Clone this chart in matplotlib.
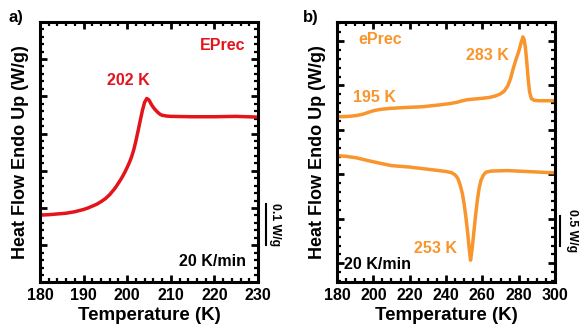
import numpy as np
import matplotlib
matplotlib.use('Agg')
import matplotlib.pyplot as plt
from matplotlib.ticker import MultipleLocator
import matplotlib.transforms as mtransforms

plt.rcParams['font.family'] = ['Liberation Sans', 'DejaVu Sans']
plt.rcParams['font.weight'] = 'bold'

RED = '#e3141b'
ORANGE = '#f8952c'

# 面板 a) EPrec 升温曲线
temp_a = [180, 182, 184, 186, 188, 190, 191, 192, 193, 194, 195, 196, 197, 197.5,
          198, 198.5, 199, 199.5, 200, 200.5, 201, 201.5, 202, 202.5, 203, 203.5,
          204, 204.5, 205, 205.5, 206, 206.5, 207, 207.5, 208, 209, 210, 215, 220,
          225, 230]
flow_a = [0.181, 0.182, 0.184, 0.186, 0.190, 0.196, 0.200, 0.205, 0.210, 0.217,
          0.225, 0.236, 0.250, 0.258, 0.267, 0.276, 0.286, 0.297, 0.309, 0.322,
          0.337, 0.356, 0.380, 0.407, 0.435, 0.462, 0.484, 0.494, 0.490, 0.479,
          0.470, 0.463, 0.457, 0.452, 0.449, 0.447, 0.446, 0.445, 0.445, 0.446,
          0.444]

# 面板 b) ePrec 升温 / 降温曲线
temp_b_heat = [180, 185, 188, 191, 194, 197, 200, 203, 206, 210, 218, 227, 236, 242,
               246, 249, 252, 256, 260, 264, 267, 270, 272, 274, 275.5, 277, 278.5,
               280, 281.3, 282.3, 283, 283.7, 284.4, 285.2, 286, 287, 288.5, 291, 300]
flow_b_heat = [3.296, 3.300, 3.310, 3.325, 3.350, 3.390, 3.430, 3.455, 3.470, 3.485,
               3.504, 3.520, 3.560, 3.590, 3.620, 3.655, 3.680, 3.695, 3.710, 3.730,
               3.760, 3.810, 3.870, 3.990, 4.150, 4.380, 4.580, 4.760, 4.950, 5.090,
               5.030, 4.850, 4.550, 4.150, 3.850, 3.700, 3.665, 3.655, 3.655]
temp_b_cool = [180, 185, 191, 197, 203.7, 210, 220, 231.5, 240, 243, 245, 246.5,
               247.8, 249, 250, 251, 252, 252.8, 253.5, 254.3, 255.2, 256.2, 257.2,
               258.2, 259.2, 260.5, 262, 265, 273.8, 300]
flow_b_cool = [2.422, 2.405, 2.370, 2.310, 2.250, 2.197, 2.164, 2.108, 2.065, 2.040,
               1.990, 1.910, 1.760, 1.570, 1.330, 1.020, 0.660, 0.320, 0.070, 0.300,
               0.650, 1.050, 1.400, 1.680, 1.860, 1.980, 2.050, 2.075, 2.085, 2.034]


def style_axes(ax, xmaj, xmin, ymaj, ymin):
    ax.xaxis.set_major_locator(MultipleLocator(xmaj))
    ax.xaxis.set_minor_locator(MultipleLocator(xmin))
    ax.yaxis.set_major_locator(MultipleLocator(ymaj))
    ax.yaxis.set_minor_locator(MultipleLocator(ymin))
    ax.tick_params(which='both', direction='in', top=True, right=True,
                   labelleft=False, labelsize=11.5)
    ax.tick_params(which='major', length=5, width=2, pad=4)
    ax.tick_params(which='minor', length=3, width=1.6)
    for s in ax.spines.values():
        s.set_linewidth(2.2)
    for lab in ax.get_xticklabels():
        lab.set_fontweight('bold')
    ax.set_xlabel('Temperature (K)', fontsize=13.5, fontweight='bold', labelpad=3)
    ax.set_ylabel('Heat Flow Endo Up (W/g)', fontsize=13, fontweight='bold', labelpad=8)


def scale_bar(ax, x, y0, y1, xt, text):
    trans = mtransforms.blended_transform_factory(ax.transAxes, ax.transData)
    ax.plot([x, x], [y0, y1], color='black', lw=1.5, transform=trans, clip_on=False)
    ax.text(xt, (y0 + y1) / 2, text, transform=trans, rotation=-90, fontsize=8.8,
            fontweight='bold', ha='center', va='center')


fig = plt.figure(figsize=(5.79, 3.30), dpi=100)
ax1 = fig.add_axes([0.069, 0.144, 0.3766, 0.79])
ax2 = fig.add_axes([0.582, 0.144, 0.3766, 0.79])

# a)
ax1.plot(temp_a, flow_a, color=RED, lw=2.5, solid_joinstyle='round')
ax1.set_xlim(180, 230)
ax1.set_ylim(0, 0.7)
style_axes(ax1, 10, 2, 0.1, 0.02)
ax1.text(0.84, 0.91, 'EPrec', color=RED, fontsize=11.5, fontweight='bold',
         ha='center', va='center', transform=ax1.transAxes)
ax1.text(0.404, 0.776, '202 K', color=RED, fontsize=11.5, fontweight='bold',
         ha='center', va='center', transform=ax1.transAxes)
ax1.text(0.792, 0.079, '20 K/min', color='black', fontsize=11.5, fontweight='bold',
         ha='center', va='center', transform=ax1.transAxes)
scale_bar(ax1, 1.035, 0.10, 0.21, 1.078, '0.1 W/g')

# b)
ax2.plot(temp_b_heat, flow_b_heat, color=ORANGE, lw=2.5, solid_joinstyle='round')
ax2.plot(temp_b_cool, flow_b_cool, color=ORANGE, lw=2.5, solid_joinstyle='round')
ax2.set_xlim(180, 300)
ax2.set_ylim(-0.43, 5.43)
style_axes(ax2, 20, 5, 1, 0.2)
ax2.text(0.20, 0.931, 'ePrec', color=ORANGE, fontsize=11.5, fontweight='bold',
         ha='center', va='center', transform=ax2.transAxes)
ax2.text(0.688, 0.87, '283 K', color=ORANGE, fontsize=11.5, fontweight='bold',
         ha='center', va='center', transform=ax2.transAxes)
ax2.text(0.173, 0.711, '195 K', color=ORANGE, fontsize=11.5, fontweight='bold',
         ha='center', va='center', transform=ax2.transAxes)
ax2.text(0.45, 0.131, '253 K', color=ORANGE, fontsize=11.5, fontweight='bold',
         ha='center', va='center', transform=ax2.transAxes)
ax2.text(0.185, 0.07, '20 K/min', color='black', fontsize=11.5, fontweight='bold',
         ha='center', va='center', transform=ax2.transAxes)
scale_bar(ax2, 1.023, 0.40, 1.06, 1.078, '0.5 W/g')

fig.text(0.027, 0.948, 'a)', fontsize=12, fontweight='bold', ha='center', va='center')
fig.text(0.536, 0.948, 'b)', fontsize=12, fontweight='bold', ha='center', va='center')

fig.savefig('out.png', dpi=100)
